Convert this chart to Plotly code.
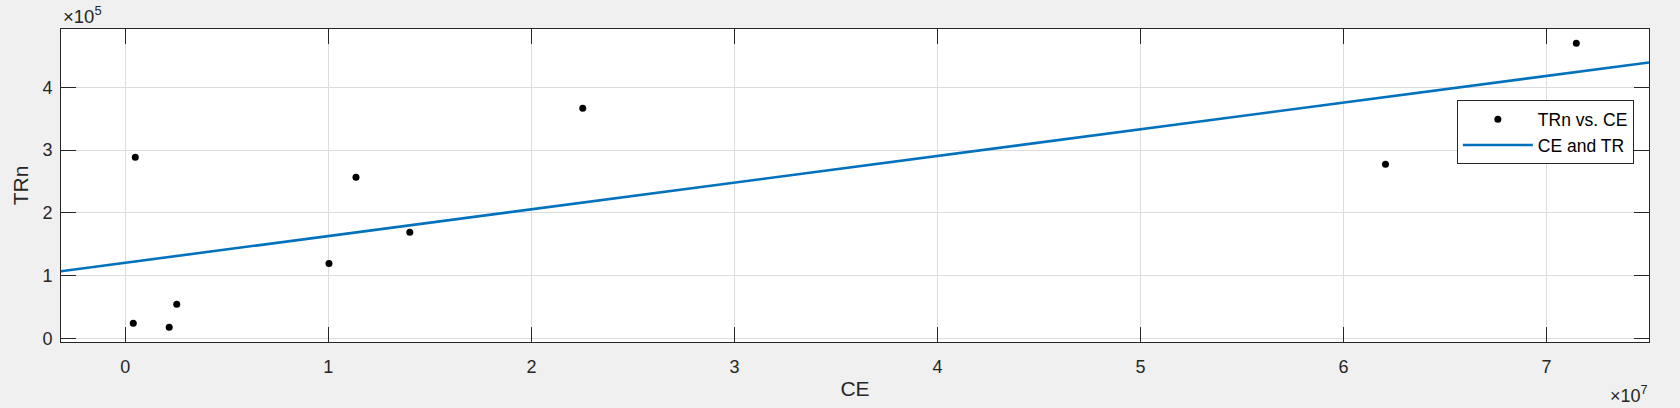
import numpy as np
import plotly.graph_objects as go

# Data
ce = [0.39e6, 0.49e6, 2.16e6, 2.53e6, 10.03e6, 11.36e6, 14.01e6, 22.53e6, 62.07e6, 71.47e6]
trn = [0.239e5, 2.884e5, 0.175e5, 0.542e5, 1.19e5, 2.566e5, 1.689e5, 3.665e5, 2.773e5, 4.70e5]

x_range = [-0.317e7, 7.505e7]
y_range = [-0.059e5, 4.929e5]
x_tickvals = [0, 1e7, 2e7, 3e7, 4e7, 5e7, 6e7, 7e7]
x_ticktext = ["0", "1", "2", "3", "4", "5", "6", "7"]
y_tickvals = [0, 1e5, 2e5, 3e5, 4e5]
y_ticktext = ["0", "1", "2", "3", "4"]

# Least-squares linear fit
slope, intercept = np.polyfit(ce, trn, 1)
fit_x = np.array(x_range)
fit_y = slope * fit_x + intercept

TXT = "#262626"
FONT = "Liberation Sans, Arial, Helvetica, sans-serif"

fig = go.Figure()
fig.add_trace(go.Scatter(x=ce, y=trn, mode="markers", name="TRn vs. CE",
                         marker=dict(color="black", size=7)))
fig.add_trace(go.Scatter(x=fit_x, y=fit_y, mode="lines", name="CE and TR",
                         line=dict(color="#0072BD", width=2.6)))

axis_common = dict(showline=True, linecolor=TXT, linewidth=1, mirror="ticks",
                   ticks="inside", ticklen=15, tickcolor=TXT, tickwidth=1,
                   showgrid=True, gridcolor="#dcdcdc", gridwidth=1,
                   zeroline=False, tickfont=dict(size=18, color=TXT, family=FONT))

fig.update_xaxes(range=x_range, tickvals=x_tickvals, ticktext=x_ticktext,
                 title=dict(text="CE", font=dict(size=21, color=TXT, family=FONT), standoff=5),
                 ticklabelstandoff=8, **axis_common)
fig.update_yaxes(range=y_range, tickvals=y_tickvals, ticktext=y_ticktext,
                 title=dict(text="TRn", font=dict(size=21, color=TXT, family=FONT), standoff=8),
                 ticklabelstandoff=4, **axis_common)

fig.add_annotation(xref="paper", yref="paper", x=0, y=1, xanchor="left", yanchor="bottom",
                   text="×10<sup>5</sup>", showarrow=False, yshift=0,
                   font=dict(size=18.5, color=TXT, family=FONT))
fig.add_annotation(xref="paper", yref="paper", x=1, y=0, xanchor="right", yanchor="top",
                   text="×10<sup>7</sup>", showarrow=False, yshift=-40, borderpad=0,
                   font=dict(size=18, color=TXT, family=FONT))

fig.update_layout(
    width=1680, height=408,
    margin=dict(l=61, r=31, t=29, b=66),
    paper_bgcolor="#f0f0f0", plot_bgcolor="white",
    font=dict(family=FONT, color=TXT),
    showlegend=True,
    legend=dict(x=0.879, y=0.772, xanchor="left", yanchor="top",
                bgcolor="white", bordercolor=TXT, borderwidth=1,
                font=dict(size=17.5, color="black", family=FONT),
                itemwidth=70, tracegroupgap=0),
)

fig.write_html("out.html", config={"displayModeBar": False},
               post_script="document.body.style.margin='0';document.body.style.padding='0';document.body.style.overflow='hidden';")
